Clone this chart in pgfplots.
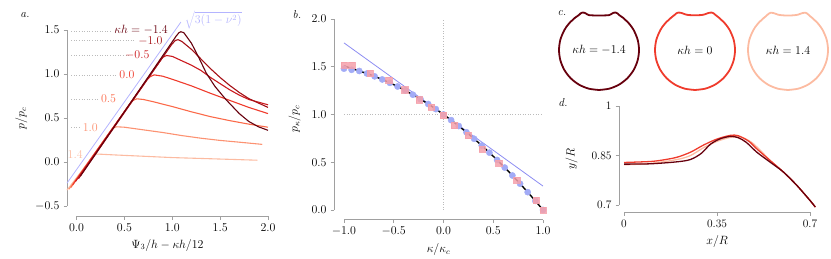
\documentclass[border=0pt]{standalone}
\usepackage{pgfplots}
\pgfplotsset{compat=1.18}
\definecolor{r1}{HTML}{67000D}
\definecolor{r2}{HTML}{A50F15}
\definecolor{r3}{HTML}{CB181D}
\definecolor{r4}{HTML}{EF3B2C}
\definecolor{r5}{HTML}{FB6A4A}
\definecolor{r6}{HTML}{FC9272}
\definecolor{r7}{HTML}{FCBBA1}
\definecolor{lav}{HTML}{B4B4FF}
\definecolor{bline}{HTML}{8C8CF2}
\definecolor{bdot}{HTML}{A2ABF6}
\definecolor{psq}{HTML}{F5A0AA}
\definecolor{spine}{HTML}{A0A0A0}
\definecolor{dotc}{HTML}{BBBBBB}
\pgfplotsset{
  spineaxis/.style={
    scale only axis, anchor=south west, clip=false,
    axis x line*=bottom, axis y line*=left, separate axis lines,
    axis line style={spine, line width=0.9pt, -},
    tick align=outside, major tick length=3.5bp,
    tick style={spine, line width=0.6pt},
  },
  onedec/.style={/pgf/number format/.cd, fixed, fixed zerofill, precision=1},
}
\begin{document}
\fontsize{11.5}{13.5}\selectfont
\begin{tikzpicture}[x=1bp,y=1bp]
\path[use as bounding box] (0,0) rectangle (831,258);
% ---------------- panel a ----------------
\begin{axis}[spineaxis, at={(67bp,42bp)}, width=201bp, height=194.8bp,
  xmin=-0.1, xmax=2.0, ymin=-0.614, ymax=1.6,
  xtick={0,0.5,1,1.5,2}, ytick={-0.5,0,0.5,1,1.5},
  x tick label style={onedec}, y tick label style={onedec},
  x axis line style={shorten <=9.6bp},
  y axis line style={shorten <=10bp, shorten >=8.8bp},
  xlabel={$\Psi_3/h-\kappa h/12$}, ylabel={$p/p_c$}]
\addplot[dotc, dotted, line width=0.6pt] coordinates {(-0.056,1.48) (0.37,1.48)};
\addplot[dotc, dotted, line width=0.6pt] coordinates {(-0.056,1.386) (0.60,1.386)};
\addplot[dotc, dotted, line width=0.6pt] coordinates {(-0.056,1.216) (0.565,1.216)};
\addplot[dotc, dotted, line width=0.6pt] coordinates {(-0.056,0.99) (0.42,0.99)};
\addplot[dotc, dotted, line width=0.6pt] coordinates {(-0.056,0.715) (0.235,0.715)};
\addplot[dotc, dotted, line width=0.6pt] coordinates {(-0.056,0.39) (0.045,0.39)};
\node[anchor=east, text=r1, inner sep=0pt] at (axis cs:0.955,1.50) {$\kappa h=-1.4$};
\node[anchor=east, text=r2, inner sep=0pt] at (axis cs:0.90,1.37) {$-1.0$};
\node[anchor=east, text=r3, inner sep=0pt] at (axis cs:0.763,1.216) {$-0.5$};
\node[anchor=east, text=r4, inner sep=0pt] at (axis cs:0.606,0.99) {$0.0$};
\node[anchor=east, text=r5, inner sep=0pt] at (axis cs:0.415,0.715) {$0.5$};
\node[anchor=east, text=r6, inner sep=0pt] at (axis cs:0.223,0.39) {$1.0$};
\node[anchor=east, text=r7, inner sep=0pt] at (axis cs:0.066,0.085) {$1.4$};
\addplot[lav, line width=0.8pt] coordinates {(-0.1,-0.24) (1.09,1.59)};
\node[anchor=west, text=lav, inner sep=0pt] at (axis cs:1.13,1.61) {$\sqrt{3(1-\nu^2)}$};
\addplot[r7, line width=1.1pt] coordinates {(-0.10,-0.32) (0.17,0.06) (0.19,0.085) (0.22,0.09) (0.4,0.08) (0.7,0.065) (1.0,0.05) (1.3,0.04) (1.6,0.03) (1.89,0.02)};
\addplot[r6, line width=1.1pt] coordinates {(-0.08,-0.31) (0.36,0.36) (0.39,0.39) (0.42,0.40) (0.5,0.395) (0.7,0.365) (0.9,0.335) (1.1,0.30) (1.3,0.27) (1.5,0.245) (1.7,0.225) (1.94,0.20)};
\addplot[r5, line width=1.1pt] coordinates {(-0.06,-0.29) (0.55,0.65) (0.59,0.70) (0.63,0.718) (0.7,0.71) (0.8,0.685) (1.0,0.63) (1.2,0.57) (1.4,0.515) (1.6,0.47) (1.8,0.43) (2.0,0.395)};
\addplot[r4, line width=1.1pt] coordinates {(-0.04,-0.26) (0.73,0.93) (0.77,0.97) (0.81,0.99) (0.9,0.975) (1.0,0.94) (1.2,0.865) (1.4,0.78) (1.6,0.70) (1.8,0.62) (2.0,0.55)};
\addplot[r3, line width=1.1pt] coordinates {(-0.01,-0.22) (0.86,1.13) (0.9,1.19) (0.94,1.21) (1.0,1.20) (1.1,1.15) (1.2,1.10) (1.3,1.04) (1.4,0.96) (1.5,0.89) (1.6,0.82) (1.7,0.76) (1.8,0.71) (1.9,0.68) (2.0,0.65)};
\addplot[r2, line width=1.1pt] coordinates {(0.02,-0.19) (0.99,1.33) (1.03,1.38) (1.06,1.39) (1.1,1.37) (1.2,1.28) (1.3,1.17) (1.4,1.06) (1.5,0.96) (1.6,0.87) (1.7,0.79) (1.8,0.72) (1.9,0.67) (2.0,0.62)};
\addplot[r1, line width=1.1pt] coordinates {(0.04,-0.16) (1.04,1.43) (1.07,1.47) (1.09,1.48) (1.12,1.47) (1.2,1.35) (1.28,1.18) (1.355,1.01) (1.445,0.86) (1.56,0.71) (1.7,0.55) (1.8,0.46) (1.9,0.40) (2.0,0.36)};
\end{axis}
% ---------------- panel b ----------------
\begin{axis}[spineaxis, at={(334bp,38.5bp)}, width=209bp, height=200.5bp,
  xmin=-1.1, xmax=1.0, ymin=-0.1, ymax=2.0,
  xtick={-1,-0.5,0,0.5,1}, ytick={0,0.5,1,1.5,2},
  x tick label style={onedec}, y tick label style={onedec},
  x axis line style={shorten <=10bp},
  y axis line style={shorten <=9.5bp},
  xlabel={$\kappa/\kappa_c$}, ylabel={$p_\kappa/p_c$}, ylabel style={yshift=3bp}]
\addplot[dotc, dotted, line width=0.6pt] coordinates {(0,0) (0,2)};
\addplot[dotc, dotted, line width=0.6pt] coordinates {(-1,1) (1,1)};
\addplot[bline, line width=0.8pt] coordinates {(-1,1.75) (1,0.25)};
\addplot[only marks, color=bdot, mark=*, mark size=3.1bp, mark options={solid, draw=bdot, fill=bdot}] coordinates {
(-1,1.48) (-0.9231,1.468) (-0.8462,1.4556) (-0.7692,1.429) (-0.6923,1.3994) (-0.6154,1.3669) (-0.5385,1.3314) (-0.4615,1.2929) (-0.3846,1.2515) (-0.3077,1.2071) (-0.2308,1.1598) (-0.1538,1.1095) (-0.0769,1.0562) (0,1.0) (0.0769,0.9408) (0.1538,0.8787) (0.2308,0.8136) (0.3077,0.7455) (0.3846,0.6745) (0.4615,0.6005) (0.5385,0.5237) (0.6154,0.4438) (0.6923,0.361) (0.7692,0.2752) (0.8462,0.1864) (0.9231,0.0947) (1,0)};
\addplot[only marks, color=psq, mark=square*, mark size=3.1bp, opacity=0.85, mark options={solid, draw=psq, fill=psq}] coordinates {
(-1,1.52) (-0.923,1.52) (-0.74,1.43) (-0.55,1.36) (-0.39,1.26) (-0.245,1.155) (-0.12,1.08) (0,0.99) (0.11,0.885) (0.245,0.78) (0.39,0.64) (0.555,0.49) (0.735,0.31) (0.93,0.10) (1,0.0)};
\addplot[black, line width=1.4pt, smooth] coordinates {
(-1,1.51) (-0.9231,1.482) (-0.8462,1.4556) (-0.7692,1.429) (-0.6923,1.3994) (-0.6154,1.3669) (-0.5385,1.3314) (-0.4615,1.2929) (-0.3846,1.2515) (-0.3077,1.2071) (-0.2308,1.1598) (-0.1538,1.1095) (-0.0769,1.0562) (0,1.0) (0.0769,0.9408) (0.1538,0.8787) (0.2308,0.8136) (0.3077,0.7455) (0.3846,0.6745) (0.4615,0.6005) (0.5385,0.5237) (0.6154,0.4438) (0.6923,0.361) (0.7692,0.2752) (0.8462,0.1864) (0.9231,0.0947) (1,0)};
\end{axis}
% ---------------- panel c ----------------
\begin{axis}[at={(557bp,166bp)}, anchor=south west, scale only axis, width=84bp, height=84bp,
  xmin=-1.05, xmax=1.05, ymin=-1.05, ymax=1.05, hide axis, clip=false]
\addplot[r1, line width=1.8pt, smooth] coordinates {
(0,-1) (0.2588,-0.9659) (0.5,-0.866) (0.7071,-0.7071) (0.866,-0.5) (0.9659,-0.2588) (1,0) (0.9659,0.2588) (0.866,0.5) (0.766,0.6428) (0.7,0.714) (0.65,0.76) (0.6,0.806) (0.55,0.841) (0.5,0.876) (0.46,0.915) (0.43,0.932) (0.4,0.936) (0.36,0.928) (0.325,0.91) (0.29,0.888) (0.25,0.872) (0.2,0.867) (0.1,0.864) (0,0.864) (-0.1,0.864) (-0.2,0.867) (-0.25,0.872) (-0.29,0.888) (-0.325,0.91) (-0.36,0.928) (-0.4,0.936) (-0.43,0.932) (-0.46,0.915) (-0.5,0.876) (-0.55,0.841) (-0.6,0.806) (-0.65,0.76) (-0.7,0.714) (-0.766,0.6428) (-0.866,0.5) (-0.9659,0.2588) (-1,0) (-0.9659,-0.2588) (-0.866,-0.5) (-0.7071,-0.7071) (-0.5,-0.866) (-0.2588,-0.9659) (0,-1)};
\node at (axis cs:0,0) {$\kappa h=-1.4$};
\end{axis}
\begin{axis}[at={(653bp,166bp)}, anchor=south west, scale only axis, width=84bp, height=84bp,
  xmin=-1.05, xmax=1.05, ymin=-1.05, ymax=1.05, hide axis, clip=false]
\addplot[r4, line width=1.8pt, smooth] coordinates {
(0,-1) (0.2588,-0.9659) (0.5,-0.866) (0.7071,-0.7071) (0.866,-0.5) (0.9659,-0.2588) (1,0) (0.9659,0.2588) (0.866,0.5) (0.766,0.6428) (0.7,0.714) (0.65,0.76) (0.6,0.806) (0.55,0.846) (0.5,0.886) (0.47,0.913) (0.43,0.932) (0.4,0.936) (0.35,0.928) (0.3,0.913) (0.25,0.893) (0.2,0.88) (0.15,0.873) (0.1,0.871) (0,0.869) (-0.1,0.871) (-0.15,0.873) (-0.2,0.88) (-0.25,0.893) (-0.3,0.913) (-0.35,0.928) (-0.4,0.936) (-0.43,0.932) (-0.47,0.913) (-0.5,0.886) (-0.55,0.846) (-0.6,0.806) (-0.65,0.76) (-0.7,0.714) (-0.766,0.6428) (-0.866,0.5) (-0.9659,0.2588) (-1,0) (-0.9659,-0.2588) (-0.866,-0.5) (-0.7071,-0.7071) (-0.5,-0.866) (-0.2588,-0.9659) (0,-1)};
\node at (axis cs:0,0) {$\kappa h=0$};
\end{axis}
\begin{axis}[at={(746bp,166bp)}, anchor=south west, scale only axis, width=84bp, height=84bp,
  xmin=-1.05, xmax=1.05, ymin=-1.05, ymax=1.05, hide axis, clip=false]
\addplot[r7, line width=1.8pt, smooth] coordinates {
(0,-1) (0.2588,-0.9659) (0.5,-0.866) (0.7071,-0.7071) (0.866,-0.5) (0.9659,-0.2588) (1,0) (0.9659,0.2588) (0.866,0.5) (0.766,0.6428) (0.7,0.714) (0.65,0.76) (0.6,0.806) (0.55,0.846) (0.52,0.875) (0.48,0.91) (0.44,0.93) (0.4,0.93) (0.35,0.92) (0.3,0.902) (0.25,0.883) (0.2,0.874) (0.1,0.865) (0,0.862) (-0.1,0.865) (-0.2,0.874) (-0.25,0.883) (-0.3,0.902) (-0.35,0.92) (-0.4,0.93) (-0.44,0.93) (-0.48,0.91) (-0.52,0.875) (-0.55,0.846) (-0.6,0.806) (-0.65,0.76) (-0.7,0.714) (-0.766,0.6428) (-0.866,0.5) (-0.9659,0.2588) (-1,0) (-0.9659,-0.2588) (-0.866,-0.5) (-0.7071,-0.7071) (-0.5,-0.866) (-0.2588,-0.9659) (0,-1)};
\node at (axis cs:0,0) {$\kappa h=1.4$};
\end{axis}
% ---------------- panel d ----------------
\begin{axis}[spineaxis, at={(619bp,46bp)}, width=196.3bp, height=106bp,
  xmin=-0.0188, xmax=0.72, ymin=0.679, ymax=1.0,
  xtick={0,0.35,0.7}, xticklabels={0,0.35,0.7},
  ytick={0.7,0.85,1}, yticklabels={0.7,0.85,1},
  x axis line style={shorten <=5bp, shorten >=5.3bp},
  y axis line style={shorten <=6.9bp},
  xlabel={$x/R$}, ylabel={$y/R$}, ylabel style={yshift=6bp}]
\addplot[r7, line width=1.3pt, smooth] coordinates {(0,0.822) (0.1,0.826) (0.2,0.838) (0.25,0.85) (0.3,0.874) (0.35,0.893) (0.4,0.905) (0.44,0.906) (0.48,0.89) (0.52,0.86) (0.55,0.835) (0.6,0.80) (0.65,0.76) (0.7,0.714) (0.72,0.694)};
\addplot[r4, line width=1.3pt, smooth] coordinates {(0,0.829) (0.1,0.832) (0.15,0.837) (0.2,0.845) (0.25,0.86) (0.3,0.882) (0.35,0.900) (0.4,0.911) (0.43,0.910) (0.47,0.893) (0.5,0.87) (0.55,0.835) (0.6,0.80) (0.65,0.76) (0.7,0.714) (0.72,0.694)};
\addplot[r1, line width=1.3pt, smooth] coordinates {(0,0.824) (0.1,0.825) (0.2,0.831) (0.25,0.838) (0.29,0.856) (0.325,0.884) (0.36,0.900) (0.4,0.908) (0.43,0.904) (0.46,0.89) (0.5,0.86) (0.55,0.83) (0.6,0.80) (0.65,0.76) (0.7,0.714) (0.72,0.694)};
\end{axis}
% panel letters
\node[font=\itshape] at (25,243) {a.};
\node[font=\itshape] at (297,243) {b.};
\node[font=\itshape] at (562,245) {c.};
\node[font=\itshape] at (563,155) {d.};
\end{tikzpicture}
\end{document}
